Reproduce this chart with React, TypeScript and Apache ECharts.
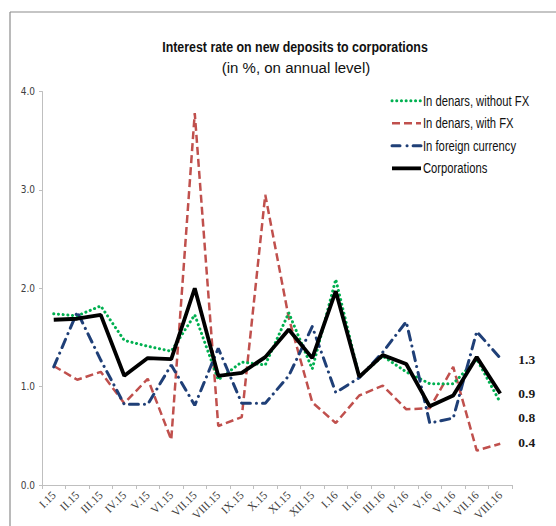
import React, { useEffect, useRef } from "react";
import * as echarts from "echarts";

const categories = [
  "I.15", "II.15", "III.15", "IV.15", "V.15", "VI.15", "VII.15", "VIII.15", "IX.15", "X.15",
  "XI.15", "XII.15", "I.16", "II.16", "III.16", "IV.16", "V.16", "VI.16", "VII.16", "VIII.16",
];

const denarsWithoutFX = [1.74, 1.72, 1.82, 1.47, 1.41, 1.36, 1.73, 1.07, 1.25, 1.22, 1.75, 1.18, 2.09, 1.10, 1.31, 1.15, 1.03, 1.03, 1.28, 0.84];
const denarsWithFX = [1.21, 1.07, 1.15, 0.83, 1.08, 0.46, 3.78, 0.60, 0.69, 2.95, 1.70, 0.84, 0.63, 0.91, 1.01, 0.77, 0.78, 1.20, 0.35, 0.42];
const foreignCurrency = [1.20, 1.76, 1.27, 0.82, 0.82, 1.22, 0.81, 1.39, 0.83, 0.83, 1.11, 1.61, 0.94, 1.09, 1.35, 1.66, 0.63, 0.68, 1.56, 1.29];
const corporations = [1.68, 1.69, 1.73, 1.11, 1.29, 1.28, 2.00, 1.11, 1.14, 1.30, 1.58, 1.29, 1.97, 1.10, 1.32, 1.23, 0.80, 0.91, 1.30, 0.93];

const seriesNames = ["In denars, without FX", "In denars, with FX", "In foreign currency", "Corporations"];
const yTicks = [0, 1, 2, 3, 4];

const SANS = "'Liberation Sans', Arial, sans-serif";
const SERIF = "'Liberation Serif', 'DejaVu Serif', serif";

const styles = [
  { color: "#00b050", width: 3, dash: [0.1, 4.6] as number[] | null, cap: "round", endDy: 15, z: 2 },
  { color: "#c0504d", width: 2.5, dash: [8, 4] as number[] | null, cap: "butt", endDy: -1, z: 1 },
  { color: "#1f3f77", width: 3, dash: [9, 6, 0.1, 6] as number[] | null, cap: "round", endDy: 1, z: 3 },
  { color: "#000000", width: 3.8, dash: null as number[] | null, cap: "butt", endDy: 0, z: 4 },
];
const seriesData = [denarsWithoutFX, denarsWithFX, foreignCurrency, corporations];

export default function App() {
  const ref = useRef<HTMLDivElement>(null);

  useEffect(() => {
    if (!ref.current) return;
    const chart = echarts.init(ref.current, undefined, { renderer: "svg" });

    const legendGraphics: any[] = [];
    seriesNames.forEach((name, i) => {
      const st = styles[i];
      const cy = 100.7 + i * 22.55;
      legendGraphics.push({
        type: "line",
        shape: { x1: 392, y1: cy, x2: 421, y2: cy },
        style: {
          stroke: st.color,
          lineWidth: st.width,
          lineDash: st.dash ? (i === 2 ? [8, 7, 0.1, 6] : st.dash) : null,
          lineCap: st.cap,
        },
      });
      legendGraphics.push({
        type: "text",
        x: 423,
        y: cy,
        scaleX: 0.75,
        style: {
          text: name,
          fontFamily: SANS,
          fontSize: 15,
          fill: "#111111",
          textAlign: "left",
          textVerticalAlign: "middle",
        },
      });
    });

    chart.setOption({
      animation: false,
      backgroundColor: "#ffffff",
      graphic: [
        { type: "line", shape: { x1: 10, y1: 12, x2: 556, y2: 12 }, style: { stroke: "#8c8c8c", lineWidth: 1.2 } },
        { type: "line", shape: { x1: 10, y1: 12, x2: 10, y2: 526 }, style: { stroke: "#8c8c8c", lineWidth: 1.2 } },
        {
          type: "text",
          x: 295,
          y: 46,
          scaleX: 0.8,
          style: {
            text: "Interest rate on new deposits to corporations",
            fontFamily: SANS,
            fontWeight: "bold",
            fontSize: 15.5,
            fill: "#111111",
            textAlign: "center",
            textVerticalAlign: "middle",
          },
        },
        {
          type: "text",
          x: 296,
          y: 67,
          scaleX: 0.97,
          style: {
            text: "(in %, on annual level)",
            fontFamily: SANS,
            fontSize: 15.5,
            fill: "#111111",
            textAlign: "center",
            textVerticalAlign: "middle",
          },
        },
        ...legendGraphics,
      ],
      grid: { left: 42, right: 44, top: 91.5, bottom: 41, containLabel: false },
      xAxis: {
        type: "category",
        data: categories,
        boundaryGap: true,
        axisLine: { lineStyle: { color: "#bfbfbf", width: 1 } },
        axisTick: { show: true, length: 4, lineStyle: { color: "#bfbfbf" } },
        axisLabel: {
          rotate: 45,
          interval: 0,
          margin: 8,
          fontFamily: SERIF,
          fontSize: 11.5,
          color: "#404040",
        },
        splitLine: { show: false },
      },
      yAxis: {
        type: "value",
        min: yTicks[0],
        max: yTicks[yTicks.length - 1],
        interval: 1,
        axisLine: { show: true, lineStyle: { color: "#bfbfbf", width: 1 } },
        axisTick: { show: true, length: 3, lineStyle: { color: "#bfbfbf" } },
        axisLabel: {
          margin: 7,
          formatter: (v: number) => v.toFixed(1),
          fontFamily: "'DejaVu Sans Condensed', 'DejaVu Sans', sans-serif",
          fontSize: 10,
          color: "#404040",
        },
        splitLine: { show: false },
      },
      series: seriesNames.map((name, i) => {
        const st = styles[i];
        return {
          name,
          type: "line",
          symbol: "none",
          data: seriesData[i],
          z: st.z,
          lineStyle: { color: st.color, width: st.width, type: st.dash || "solid", cap: st.cap },
          itemStyle: { color: st.color },
          endLabel: {
            show: true,
            distance: 18,
            offset: [0, st.endDy],
            formatter: (p: any) => Number(p.value).toFixed(1),
            fontFamily: SERIF,
            fontWeight: "bold",
            fontSize: 13.5,
            color: "#1a1a1a",
          },
        };
      }),
    });
    return () => chart.dispose();
  }, []);

  return (
    <div
      ref={ref}
      style={{ position: "absolute", left: 0, top: 0, width: 556, height: 526 }}
    />
  );
}
